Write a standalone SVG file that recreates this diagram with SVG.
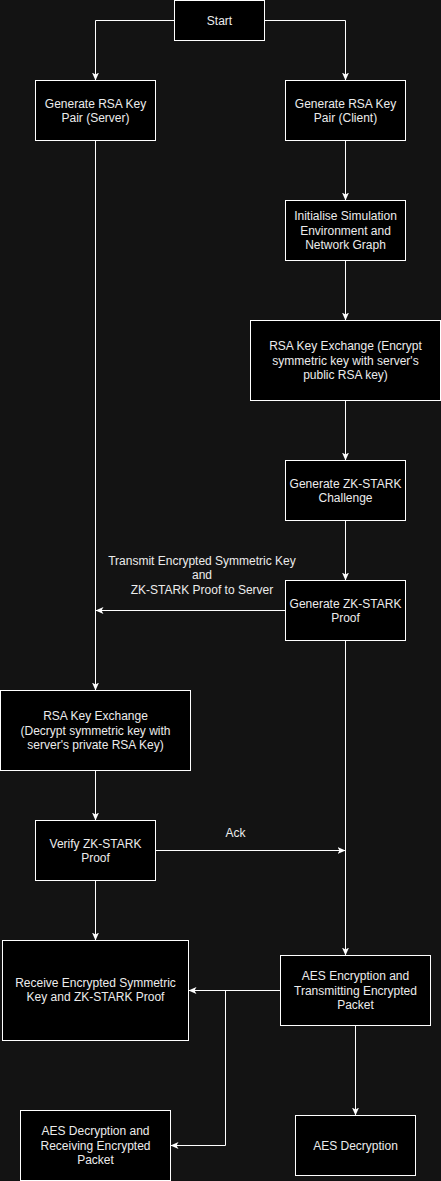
<svg xmlns="http://www.w3.org/2000/svg" width="441" height="1181" viewBox="0 0 441 1181">
<defs>
<style>
.node rect{fill:#000;stroke:#fff;stroke-width:1}
text{font-family:"Liberation Sans",Arial,sans-serif;font-size:12px;fill:#ececec;text-anchor:middle}
.edge{fill:none;stroke:#fff;stroke-width:1}
</style>
<marker id="arr" markerUnits="userSpaceOnUse" markerWidth="9" markerHeight="8" refX="8" refY="4" orient="auto" viewBox="0 0 9 8">
<path d="M0,0.5 L8,4 L0,7.5 L2,4 Z" fill="#fff"/>
</marker>
</defs>
<rect width="441" height="1181" fill="#131313"/>
<g id="connectors">
<path class="edge" d="M174.5,20.5 H95.5 V80.5" marker-end="url(#arr)"/>
<path class="edge" d="M264.5,20.5 H345.5 V80.5" marker-end="url(#arr)"/>
<path class="edge" d="M345.5,140.5 V200.5" marker-end="url(#arr)"/>
<path class="edge" d="M345.5,260.5 V320.5" marker-end="url(#arr)"/>
<path class="edge" d="M345.5,400.5 V460.5" marker-end="url(#arr)"/>
<path class="edge" d="M345.5,520.5 V580.5" marker-end="url(#arr)"/>
<path class="edge" d="M95.5,140.5 V690.5" marker-end="url(#arr)"/>
<path class="edge" d="M285.5,610.5 H95.5" marker-end="url(#arr)"/>
<text x="202" y="565">Transmit Encrypted Symmetric Key</text>
<text x="202" y="579.4">and</text>
<text x="202" y="593.8">ZK-STARK Proof to Server</text>
<path class="edge" d="M345.5,640.5 V955.5" marker-end="url(#arr)"/>
<path class="edge" d="M95.5,770.5 V820.5" marker-end="url(#arr)"/>
<path class="edge" d="M155.5,850.5 H345.5" marker-end="url(#arr)"/>
<text x="235.5" y="837">Ack</text>
<path class="edge" d="M95.5,880.5 V940.5" marker-end="url(#arr)"/>
<path class="edge" d="M280.5,990.5 H188.5" marker-end="url(#arr)"/>
<path class="edge" d="M225.5,990.5 V1145.5 H170.5" marker-end="url(#arr)"/>
<path class="edge" d="M355.5,1025.5 V1115.5" marker-end="url(#arr)"/>
</g>
<g id="start" class="node"><rect x="174.5" y="0.5" width="90" height="40"/><text x="219.5" y="24.5">Start</text></g>
<g id="gen-rsa-server" class="node"><rect x="35.5" y="80.5" width="120" height="60"/><text x="95.5" y="107.5">Generate RSA Key</text><text x="95.5" y="121.9">Pair (Server)</text></g>
<g id="gen-rsa-client" class="node"><rect x="285.5" y="80.5" width="120" height="60"/><text x="345.5" y="107.5">Generate RSA Key</text><text x="345.5" y="121.9">Pair (Client)</text></g>
<g id="init-sim" class="node"><rect x="285.5" y="200.5" width="120" height="60"/><text x="345.5" y="220.3">Initialise Simulation</text><text x="345.5" y="234.7">Environment and</text><text x="345.5" y="249.1">Network Graph</text></g>
<g id="rsa-encrypt" class="node"><rect x="250.5" y="320.5" width="190" height="80"/><text x="345.5" y="350.3">RSA Key Exchange (Encrypt</text><text x="345.5" y="364.7">symmetric key with server's</text><text x="345.5" y="379.1">public RSA key)</text></g>
<g id="zk-challenge" class="node"><rect x="285.5" y="460.5" width="120" height="60"/><text x="345.5" y="487.5">Generate ZK-STARK</text><text x="345.5" y="501.9">Challenge</text></g>
<g id="zk-proof" class="node"><rect x="285.5" y="580.5" width="120" height="60"/><text x="345.5" y="607.5">Generate ZK-STARK</text><text x="345.5" y="621.9">Proof</text></g>
<g id="rsa-decrypt" class="node"><rect x="0.5" y="690.5" width="190" height="80"/><text x="95.5" y="720.3">RSA Key Exchange</text><text x="95.5" y="734.7">(Decrypt symmetric key with</text><text x="95.5" y="749.1">server's private RSA Key)</text></g>
<g id="verify" class="node"><rect x="35.5" y="820.5" width="120" height="60"/><text x="95.5" y="847.5">Verify ZK-STARK</text><text x="95.5" y="861.9">Proof</text></g>
<g id="receive" class="node"><rect x="2.5" y="940.5" width="186" height="100"/><text x="95.5" y="987">Receive Encrypted Symmetric</text><text x="95.5" y="1001.4">Key and ZK-STARK Proof</text></g>
<g id="aes-enc" class="node"><rect x="280.5" y="955.5" width="150" height="70"/><text x="355.5" y="980.3">AES Encryption and</text><text x="355.5" y="994.7">Transmitting Encrypted</text><text x="355.5" y="1009.1">Packet</text></g>
<g id="aes-dec-recv" class="node"><rect x="20.5" y="1110.5" width="150" height="70"/><text x="95.5" y="1135.3">AES Decryption and</text><text x="95.5" y="1149.7">Receiving Encrypted</text><text x="95.5" y="1164.1">Packet</text></g>
<g id="aes-dec" class="node"><rect x="295.5" y="1115.5" width="120" height="60"/><text x="355.5" y="1149.5">AES Decryption</text></g>
</svg>
